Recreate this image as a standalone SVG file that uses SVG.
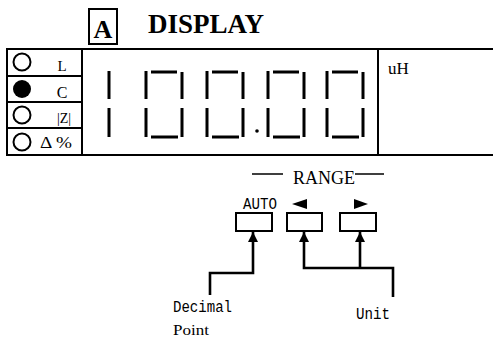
<svg xmlns="http://www.w3.org/2000/svg" width="493" height="338" viewBox="0 0 493 338">
<style>
.frame{fill:none;stroke:#000;stroke-width:2}
.seg{stroke:#000;stroke-width:3;fill:none}
.serif{font-family:"Liberation Serif","Times New Roman",serif;fill:#000}
.mono{font-family:"Liberation Mono","Courier New",monospace;fill:#000}
.btn{fill:#fff;stroke:#000;stroke-width:2}
.conn{fill:none;stroke:#000;stroke-width:2.6}
</style>
<defs>
<marker id="ah" markerUnits="userSpaceOnUse" markerWidth="10" markerHeight="10" viewBox="0 0 10 10" refX="10" refY="5" orient="auto">
<path d="M0,0 L10,5 L0,10 Z" fill="#000"/>
</marker>
<g id="zero">
<path class="seg" d="M0,71 V99 M0,108 V137 M36,72 V99 M36,108 V137 M5,72 H31 M5,137 H32"/>
</g>
</defs>
<rect width="493" height="338" fill="#fff"/>

<g id="title">
<rect x="89" y="9" width="28" height="35" class="frame"/>
<text x="103" y="38" class="serif" font-size="26" font-weight="bold" text-anchor="middle">A</text>
<text x="148" y="33" class="serif" font-size="27" font-weight="bold">DISPLAY</text>
</g>

<g id="indicators">
<rect x="7" y="49" width="75" height="106" class="frame"/>
<path class="frame" d="M7,76 H82 M7,102 H82 M7,128 H82"/>
<circle cx="22" cy="62" r="8.5" fill="none" stroke="#000" stroke-width="2"/>
<circle cx="22" cy="89" r="9" fill="#000"/>
<circle cx="22" cy="115" r="8.5" fill="none" stroke="#000" stroke-width="2"/>
<circle cx="22" cy="142" r="8.5" fill="none" stroke="#000" stroke-width="2"/>
<text x="62" y="71" class="serif" font-size="15" text-anchor="middle">L</text>
<text x="62" y="98" class="serif" font-size="16" text-anchor="middle">C</text>
<text x="64" y="123" class="serif" font-size="14" text-anchor="middle">|Z|</text>
<text x="40" y="148" class="serif" font-size="17" textLength="32" lengthAdjust="spacingAndGlyphs">Δ %</text>
</g>

<g id="display">
<path class="frame" d="M82,49 H378 V155 H82"/>
<path class="seg" d="M109,71 V99 M109,108 V137"/>
<use href="#zero" x="146"/>
<use href="#zero" x="207"/>
<circle cx="257" cy="131" r="1.8" fill="#000"/>
<use href="#zero" x="268"/>
<use href="#zero" x="327"/>
</g>

<g id="unit-box">
<path class="frame" d="M378,49 H493 M378,155 H493"/>
<text x="388" y="74" class="serif" font-size="17">uH</text>
</g>

<g id="range">
<path d="M252,174 H283 M355,174 H384" stroke="#000" stroke-width="1.5"/>
<text x="293" y="184" class="serif" font-size="18" textLength="62" lengthAdjust="spacingAndGlyphs">RANGE</text>
</g>

<g id="btn-auto">
<text x="243" y="209" class="mono" font-size="17" textLength="34" lengthAdjust="spacingAndGlyphs">AUTO</text>
<rect x="236" y="213" width="36" height="18" class="btn"/>
</g>
<g id="btn-left">
<polygon points="292,204 307,199 307,209" fill="#000"/>
<rect x="287" y="213" width="35" height="18" class="btn"/>
</g>
<g id="btn-right">
<polygon points="354,199 368,204 354,209" fill="#000"/>
<rect x="340" y="213" width="36" height="18" class="btn"/>
</g>

<g id="label-decimal">
<text x="173" y="312" class="mono" font-size="16" textLength="59" lengthAdjust="spacingAndGlyphs">Decimal</text>
<text x="173" y="335" class="serif" font-size="15" textLength="36" lengthAdjust="spacingAndGlyphs">Point</text>
</g>
<g id="label-unit">
<text x="356" y="319" class="mono" font-size="16" textLength="34" lengthAdjust="spacingAndGlyphs">Unit</text>
</g>

<g id="connectors">
<path class="conn" d="M210,295 V273 H253 V232" marker-end="url(#ah)"/>
<path class="conn" d="M393,297 V268 H304 V232" marker-end="url(#ah)"/>
<path class="conn" d="M360,268 V232" marker-end="url(#ah)"/>
</g>
</svg>
